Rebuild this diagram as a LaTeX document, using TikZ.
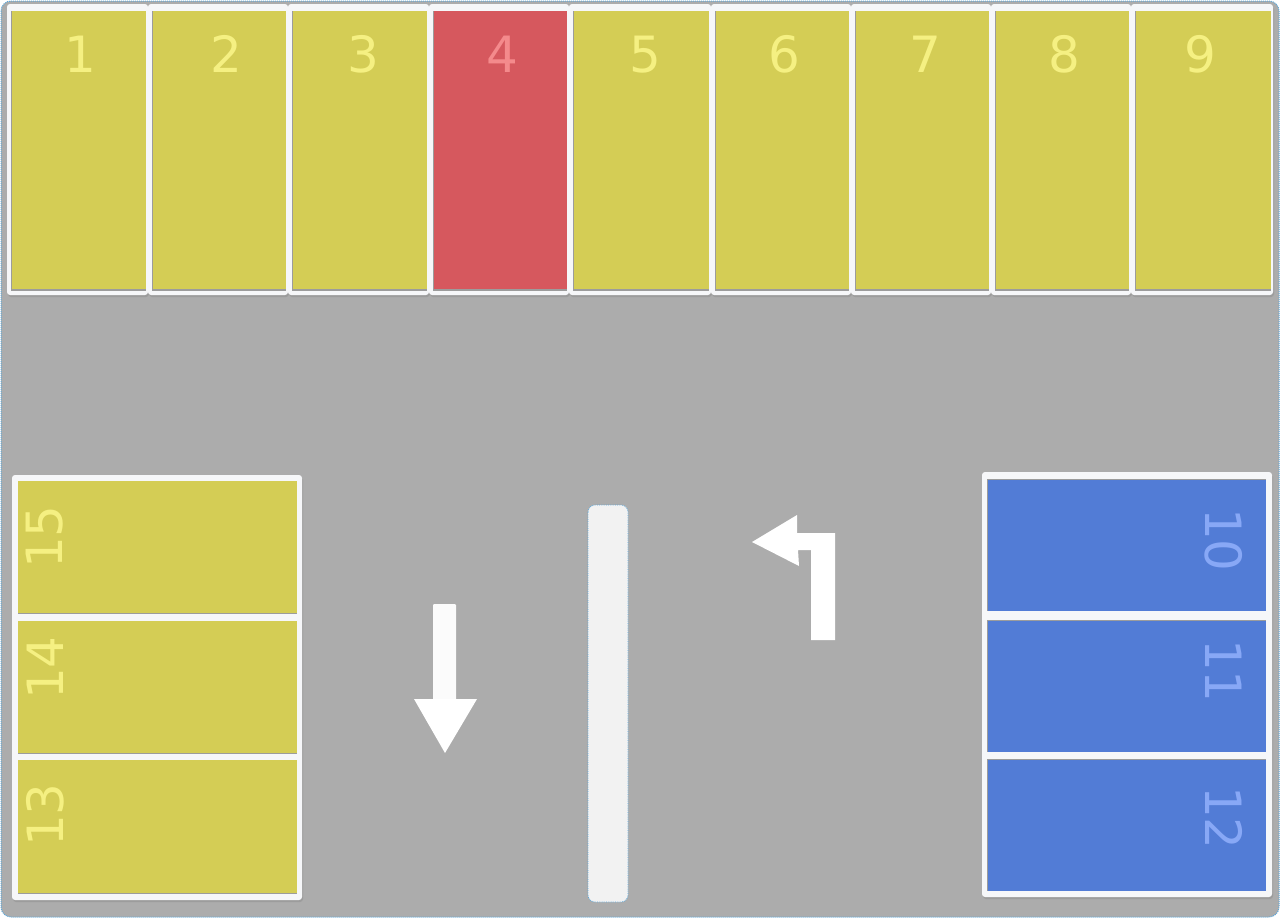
\documentclass[tikz,border=0pt]{standalone}
\usepackage{fontspec}
\setmainfont{DejaVu Sans}
\definecolor{road}{HTML}{ACACAC}
\definecolor{edgeblue}{HTML}{5AA8DC}
\definecolor{spotY}{HTML}{D4CD55}
\definecolor{spotR}{HTML}{D6585E}
\definecolor{spotB}{HTML}{527CD6}
\definecolor{numY}{HTML}{F5F082}
\definecolor{numR}{HTML}{F48A8C}
\definecolor{numB}{HTML}{88A8F6}
\definecolor{frameW}{HTML}{F6F7F9}
\definecolor{shadeG}{HTML}{9C9C9C}
\definecolor{divider}{HTML}{F2F2F2}
\begin{document}
\begin{tikzpicture}[x=1pt,y=-1pt,
  frame/.style={fill=frameW, rounded corners=3pt},
  numlabel/.style={font=\fontsize{50}{50}\selectfont, inner sep=0pt},
  marking/.style={fill=white, draw=none}]
\useasboundingbox (0,0) rectangle (1280,918);
% road surface
\fill[white] (0,0) rectangle (1280,918);
\draw[fill=road, draw=edgeblue, densely dotted, line width=1pt, rounded corners=10pt] (1,1) rectangle (1279,917);
% top row of spaces
\foreach \i/\a/\b/\tx/\sc/\nc in {1/7/148/80/spotY/numY, 2/148/288/226/spotY/numY, 3/288/429/363/spotY/numY, 4/429/569/502/spotR/numR, 5/569/711/645/spotY/numY, 6/711/851/784/spotY/numY, 7/851/991/925/spotY/numY, 8/991/1131/1064/spotY/numY, 9/1131/1273/1200/spotY/numY}{
  \fill[shadeG, rounded corners=3pt] (\a+1,6) rectangle (\b+1,297);
  \fill[frame] (\a,4) rectangle (\b,295);
  \fill[shadeG] (\a+4,11) rectangle (\b-2,291);
  \fill[\sc] (\a+5,11) rectangle (\b-2,289);
  \node[numlabel, text=\nc, anchor=base] (n\i) at (\tx,72) {\i};
}
% bottom-left block
\fill[shadeG, rounded corners=3pt] (13,477) rectangle (303,902);
\fill[frame] (12,475) rectangle (302,900);
\foreach \i/\ya/\yb/\ty in {15/481/613/537, 14/621/753/668, 13/760/893/815}{
  \fill[shadeG] (18,\ya) rectangle (297,\yb+1);
  \fill[spotY] (18,\ya) rectangle (297,\yb);
  \node[numlabel, text=numY, rotate=90] (n\i) at (45,\ty) {\i};
}
% bottom-right block
\fill[shadeG, rounded corners=3pt] (983,474) rectangle (1273,899);
\fill[frame] (982,472) rectangle (1272,897);
\foreach \i/\ya/\yb/\ty in {10/479/611/540, 11/620/752/671, 12/759/891/818}{
  \fill[shadeG] (987,\ya) rectangle (1266,\yb);
  \fill[spotB] (988,\ya+1) rectangle (1266,\yb);
  \node[numlabel, text=numB, rotate=-90] (n\i) at (1224,\ty) {\i};
}
% central divider
\draw[fill=divider, draw=edgeblue, densely dotted, line width=0.8pt, rounded corners=7pt] (588,505) rectangle (628,902);
% down arrow
\fill[white!97!gray, rounded corners=1pt] (433,604) rectangle (456,700);
\fill[marking] (414,699) -- (477,699) -- (445,753) -- cycle;
% left-turn arrow
\fill[marking] (752,542) -- (797,515) -- (797,533) -- (835,533) -- (835,640) -- (811,640) -- (811,550) -- (798,550) -- (799,566) -- cycle;
\end{tikzpicture}
\end{document}
